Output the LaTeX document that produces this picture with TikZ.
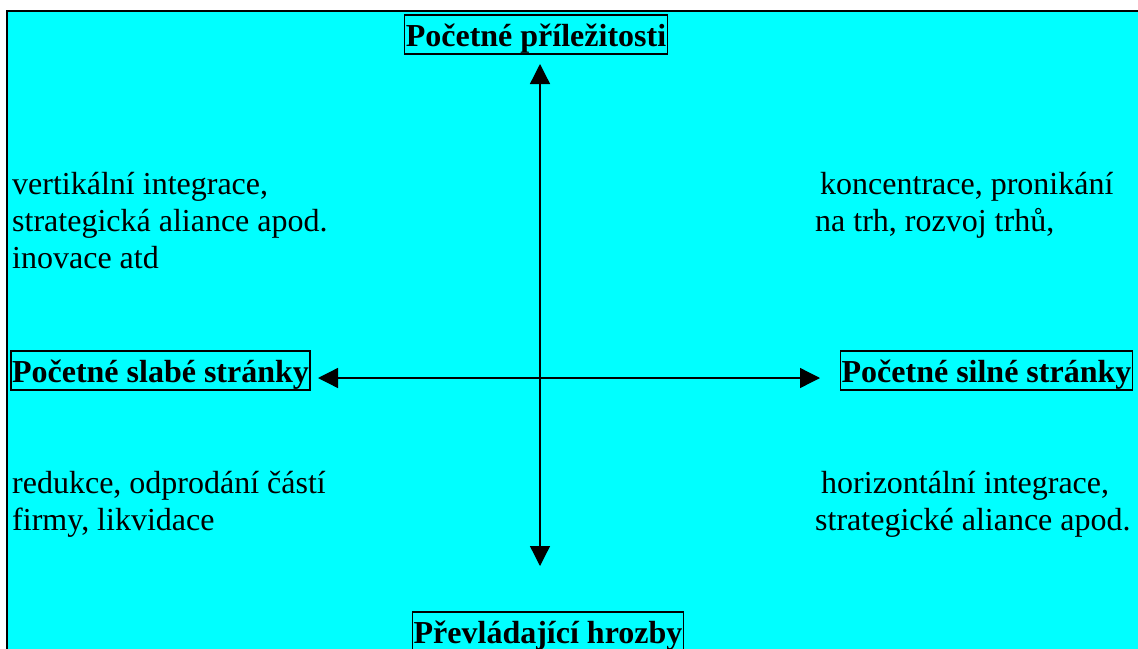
\documentclass[tikz,border=0pt]{standalone}
\usepackage{fontspec}
\setmainfont{Liberation Serif}
\usetikzlibrary{arrows.meta}
\definecolor{bgcyan}{HTML}{00FFFF}
\begin{document}
\begin{tikzpicture}[x=1pt,y=-1pt,
  txt/.style={inner sep=0pt, anchor=base west, font=\fontsize{32pt}{37pt}\selectfont},
  labelbox/.style={draw, line width=1.3pt, anchor=base, inner xsep=1.2pt, inner ysep=1pt,
    text height=30pt, text depth=7pt, font=\fontsize{32pt}{37pt}\selectfont\bfseries},
  axis/.style={line width=1.3pt, {Triangle[width=20pt,length=20pt]}-{Triangle[width=20pt,length=20pt]}}]
\clip (0,0) rectangle (1138,648);
\fill[bgcyan] (7,11) rectangle (1150,660);
\draw[line width=1.5pt] (7,660) -- (7,11) -- (1150,11);

\node[labelbox] (top) at (536,46) {Početné příležitosti};
\node[labelbox] (left) at (160.5,382) {Početné slabé stránky};
\node[labelbox] (right) at (986.5,382) {Početné silné stránky};
\node[labelbox] (bottom) at (548,643) {Převládající hrozby};

\coordinate (vt) at (540,64);
\coordinate (vb) at (540,566);
\coordinate (hl) at (318,378);
\coordinate (hr) at (820,378);
\draw[axis] (vt) -- (vb);
\draw[axis] (hl) -- (hr);

\node[txt] (ul1) at (12,194) {vertikální integrace,};
\node[txt] (ul2) at (12,231) {strategická aliance apod.};
\node[txt] (ul3) at (12,268) {inovace atd};

\node[txt] (ur1) at (820,194) {koncentrace, pronikání};
\node[txt] (ur2) at (815,231) {na trh, rozvoj trhů,};

\node[txt] (ll1) at (12,493) {redukce, odprodání částí};
\node[txt] (ll2) at (12,530) {firmy, likvidace};

\node[txt] (lr1) at (821,493) {horizontální integrace,};
\node[txt] (lr2) at (815,530) {strategické aliance apod.};
\end{tikzpicture}
\end{document}
